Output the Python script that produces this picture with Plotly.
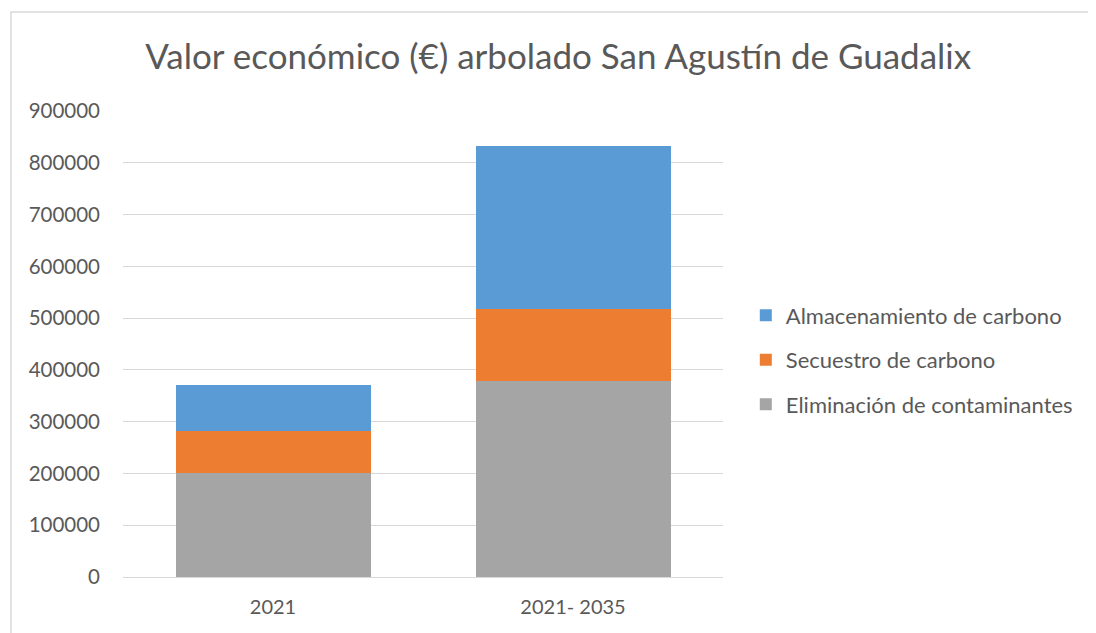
import plotly.graph_objects as go

categories = ["2021", "2021- 2035"]
eliminacion = [200500, 378000]
secuestro = [80800, 138800]
almacenamiento = [89400, 316000]
y_ticks = [0, 100000, 200000, 300000, 400000, 500000, 600000, 700000, 800000, 900000]

FONT = "Lato"
TXT = "#595959"

fig = go.Figure()
fig.add_trace(go.Bar(x=categories, y=eliminacion, name="Eliminación de contaminantes",
                     marker=dict(color="#A5A5A5", line=dict(width=0)),
                     legendgroup="c", legendrank=3))
fig.add_trace(go.Bar(x=categories, y=secuestro, name="Secuestro de carbono",
                     marker=dict(color="#ED7D31", line=dict(width=0)),
                     legendgroup="b", legendrank=2))
fig.add_trace(go.Bar(x=categories, y=almacenamiento, name="Almacenamiento de carbono",
                     marker=dict(color="#5B9BD5", line=dict(width=0)),
                     legendgroup="a", legendrank=1))

fig.update_layout(
    width=1096, height=633,
    barmode="stack", bargap=0.35,
    paper_bgcolor="white", plot_bgcolor="white",
    margin=dict(l=115, r=381, t=103, b=64),
    font=dict(family=FONT, color=TXT, size=20),
    title=dict(text="Valor económico (€) arbolado San Agustín de Guadalix",
               x=0.502, xanchor="center", y=0.9226, yanchor="middle",
               font=dict(family=FONT, size=35, color=TXT)),
    legend=dict(x=1.038, xanchor="left", y=0.466, yanchor="middle",
                traceorder="grouped", tracegroupgap=13,
                font=dict(family=FONT, size=22, color=TXT)),
    xaxis=dict(showline=True, linecolor="#D9D9D9", linewidth=1, ticks="",
               ticklabelstandoff=12,
               tickfont=dict(family=FONT, size=20, color=TXT)),
    yaxis=dict(range=[0, 900000], tickvals=y_ticks, ticktext=[str(v) for v in y_ticks],
               showgrid=True, gridcolor="#D9D9D9", gridwidth=1, zeroline=False,
               ticks="", ticklabelstandoff=22,
               tickfont=dict(family=FONT, size=20.5, color=TXT)),
    shapes=[dict(type="rect", xref="paper", yref="paper",
                 x0=-0.1867, x1=1.7, y0=-0.3, y1=1.2124,
                 line=dict(color="#D9D9D9", width=1.5), fillcolor="rgba(0,0,0,0)", layer="below")],
)

fig.write_html("out.html")
